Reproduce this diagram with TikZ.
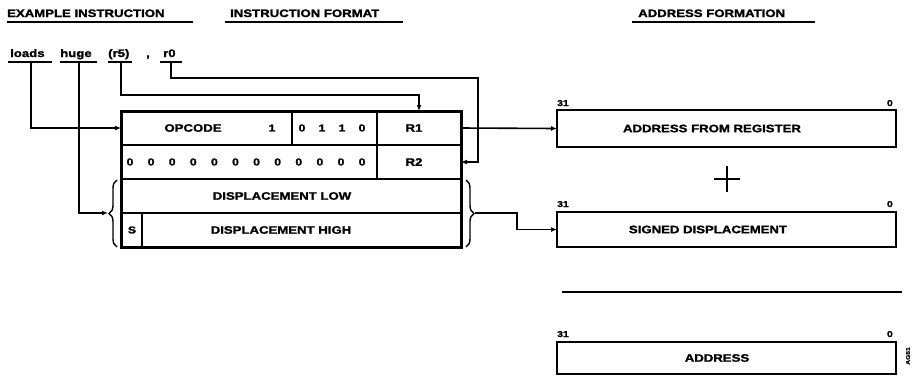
\documentclass[tikz,border=0pt]{standalone}
\usepackage{fontspec}
\newfontfamily\hv{Liberation Sans Bold}[FakeStretch=1.22,FakeBold=1.6]
\usetikzlibrary{arrows.meta,decorations.pathreplacing}
\tikzset{
  lbl/.style={font=\hv\fontsize{10.8}{12}\selectfont, inner sep=0pt},
  small/.style={font=\hv\fontsize{8.5}{10}\selectfont, inner sep=0pt},
  dig/.style={font=\hv\fontsize{10}{11}\selectfont, inner sep=0pt},
  cell/.style={draw, line width=1.5pt, anchor=north west, inner sep=0pt, outer sep=0pt, minimum height=34pt},
  abox/.style={draw, line width=2.6pt, anchor=north west, inner sep=0pt, outer sep=0pt, minimum width=339pt},
  arr/.style={line width=1.6pt, -{Latex[length=6pt,width=5pt]}},
  uline/.style={line width=1.8pt},
  brc/.style={line width=1.4pt, decorate, decoration={brace, amplitude=8pt}}
}
\begin{document}
\begin{tikzpicture}[x=1pt,y=-1pt]
\useasboundingbox (0,0) rectangle (914,376);

% headers
\node[lbl, anchor=base west] (h1) at (7,17) {EXAMPLE INSTRUCTION};
\draw[uline] (7,22) -- (193,22);
\node[lbl, anchor=base west] (h2) at (230,17) {INSTRUCTION FORMAT};
\draw[uline] (225,22) -- (403,22);
\node[lbl, anchor=base west] (h3) at (638,17) {ADDRESS FORMATION};
\draw[uline] (632,22) -- (815,22);

% example instruction words
\node[lbl, anchor=base west] (wloads) at (10,57) {loads};
\draw[uline] (8,62) -- (52,62);
\node[lbl, anchor=base west] (whuge) at (60,57) {huge};
\draw[uline] (60,62) -- (97,62);
\node[lbl, anchor=base west] (wr5) at (108,57) {(r5)};
\draw[uline] (108,62) -- (132,62);
\node[lbl, anchor=base west] (wcomma) at (146,57) {,};
\node[lbl, anchor=base west] (wr0) at (163,57) {r0};
\draw[uline] (160,62) -- (182,62);
\coordinate (uloads) at (31,62);
\coordinate (uhuge) at (79,62);
\coordinate (ur5) at (121,62);
\coordinate (ur0) at (171,62);

% instruction format cells
\node[cell, minimum width=171pt] (opc) at (121,111) {};
\node[cell, minimum width=85pt] (bits) at (292,111) {};
\node[cell, minimum width=84pt] (r1) at (377,111) {};
\node[cell, minimum width=256pt] (zer) at (121,145) {};
\node[cell, minimum width=84pt] (r2) at (377,145) {};
\node[cell, minimum width=340pt] (dlow) at (121,179) {};
\node[cell, minimum width=21pt] (s) at (121,213) {};
\node[cell, minimum width=319pt] (dhigh) at (142,213) {};
\draw[line width=3pt] (opc.north west) rectangle (dhigh.south east);

\node[lbl] (topc) at (193,128) {OPCODE};
\node[dig] (tone) at (272,128) {1};
\foreach \x/\d in {302/0,322/1,342/1,362/0} \node[dig] at (\x,128) {\d};
\node[lbl] (tr1) at (414,128) {R1};
\foreach \i in {0,...,11} \node[dig] at ({130+\i*21.1},162) {0};
\node[lbl] (tr2) at (414,162) {R2};
\node[lbl] (tdlow) at (282,196) {DISPLACEMENT LOW};
\node[dig] (ts) at (132,230) {S};
\node[lbl] (tdhigh) at (281,230) {DISPLACEMENT HIGH};

% braces
\draw[brc] (117,247) -- (117,180);
\draw[brc] (466,180) -- (466,247);
\coordinate (lbt) at (108,213);
\coordinate (rbt) at (475,213);

% address formation boxes
\node[abox, minimum height=37pt] (afr) at (557,110) {};
\node[lbl] at (712,128.5) {ADDRESS FROM REGISTER};
\node[small, anchor=base west] at (557,106) {31};
\node[small, anchor=base east] at (893,106) {0};

\node[abox, minimum height=35pt] (sd) at (557,212) {};
\node[lbl] at (708,229.5) {SIGNED DISPLACEMENT};
\node[small, anchor=base west] at (557,207) {31};
\node[small, anchor=base east] at (893,207) {0};

\draw[line width=1.6pt] (714,179) -- (740,179);
\draw[line width=1.6pt] (727,166) -- (727,192);

\draw[line width=1.8pt] (562,292) -- (902,292);

\node[abox, minimum height=32pt] (addr) at (557,342) {};
\node[lbl] at (717,358) {ADDRESS};
\node[small, anchor=base west] at (557,337) {31};
\node[small, anchor=base east] at (893,337) {0};
\node[font=\hv\fontsize{5.5}{6}\selectfont, inner sep=0pt, rotate=90] (ag) at (908,356) {AG51};

% connectors
\draw[arr] (uloads) |- (opc.west);
\draw[arr] (uhuge) |- (lbt);
\draw[arr] (ur5) -- ++(0,33) -| (r1.north);
\draw[arr] (ur0) -- ++(0,16) -| ([xshift=17pt]r2.east) -- (r2.east);
\draw[arr] (r1.east) -- (afr.west);
\draw[arr] (rbt) -- ++(42,0) |- (sd.west);
\end{tikzpicture}
\end{document}
